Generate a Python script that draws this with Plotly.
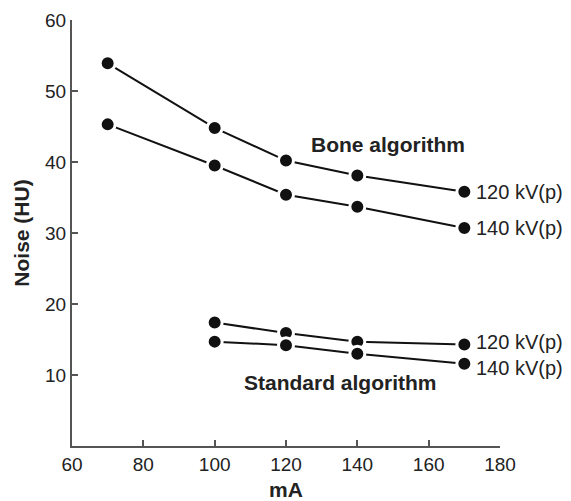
import plotly.graph_objects as go

mA_bone = [70, 100, 120, 140, 170]
bone_120 = [53.9, 44.8, 40.2, 38.1, 35.8]
bone_140 = [45.3, 39.5, 35.4, 33.7, 30.7]
mA_std = [100, 120, 140, 170]
std_120 = [17.4, 15.9, 14.7, 14.3]
std_140 = [14.7, 14.2, 13.0, 11.6]

x_ticks = [60, 80, 100, 120, 140, 160, 180]
y_ticks = [10, 20, 30, 40, 50, 60]

font_family = "Liberation Sans, Arial, sans-serif"
txt = "#222222"

fig = go.Figure()
for xs, ys in [(mA_bone, bone_120), (mA_bone, bone_140), (mA_std, std_120), (mA_std, std_140)]:
    fig.add_trace(go.Scatter(
        x=xs, y=ys, mode="lines+markers",
        line=dict(color="#111111", width=2),
        marker=dict(color="#111111", size=15, line=dict(color="white", width=3)),
        showlegend=False, hoverinfo="skip", cliponaxis=False))

for xs, ys, lab, ysh in [(mA_bone, bone_120, "120 kV(p)", 0), (mA_bone, bone_140, "140 kV(p)", 0),
                         (mA_std, std_120, "120 kV(p)", 2), (mA_std, std_140, "140 kV(p)", -4)]:
    fig.add_annotation(x=xs[-1], y=ys[-1], text=lab,
                       xanchor="left", yanchor="middle", showarrow=False, xshift=10, yshift=ysh,
                       font=dict(family=font_family, size=20, color=txt))

fig.add_annotation(x=148.6, y=42.4, text="<b>Bone algorithm</b>", showarrow=False,
                   xanchor="center", yanchor="middle",
                   font=dict(family=font_family, size=21, color=txt))
fig.add_annotation(x=135.4, y=9.0, text="<b>Standard algorithm</b>", showarrow=False,
                   xanchor="center", yanchor="middle",
                   font=dict(family=font_family, size=21, color=txt))

fig.update_layout(
    width=571, height=501,
    margin=dict(l=72, r=71, t=20, b=55),
    plot_bgcolor="white", paper_bgcolor="white",
    font=dict(family=font_family, size=19, color=txt),
)
fig.update_xaxes(range=[60, 180], tickvals=x_ticks, ticks="inside", ticklen=6, tickwidth=2,
                 tickcolor="#555555", showline=True, linecolor="#555555", linewidth=2,
                 showgrid=False, zeroline=False, automargin=False,
                 title=dict(text="<b>mA</b>", standoff=11, font=dict(size=21)),
                 tickfont=dict(size=19, color=txt))
fig.update_yaxes(range=[0, 60], tickvals=y_ticks, ticks="inside", ticklen=6, tickwidth=2,
                 tickcolor="#555555", showline=True, linecolor="#555555", linewidth=2,
                 showgrid=False, zeroline=False, automargin=False,
                 title=dict(text="<b>Noise (HU)</b>", standoff=10, font=dict(size=21)),
                 tickfont=dict(size=19, color=txt))

fig.write_html("out.html", config={"displayModeBar": False},
               post_script="document.body.style.margin='0';document.body.style.overflow='hidden';")
